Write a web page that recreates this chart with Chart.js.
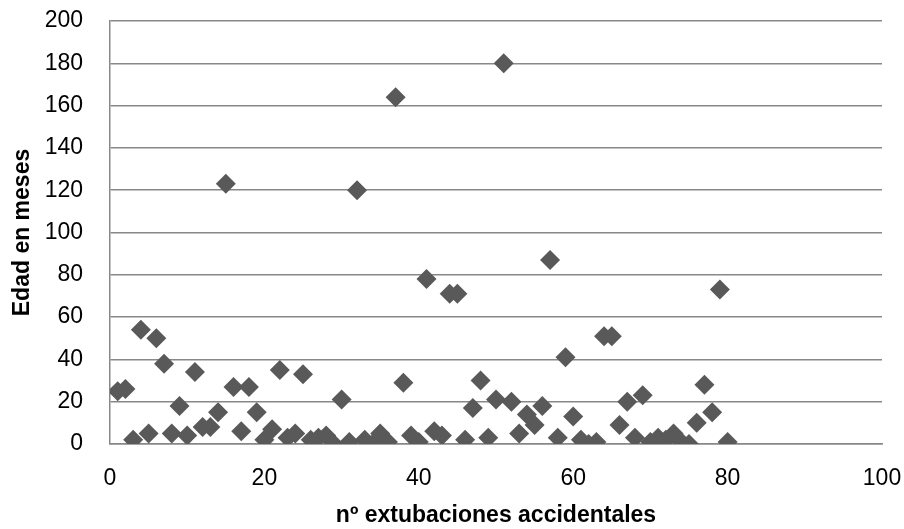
<!DOCTYPE html>
<html lang="es">
<head>
<meta charset="utf-8">
<title>Extubaciones accidentales</title>
<script src="https://cdn.jsdelivr.net/npm/chart.js@4.4.1/dist/chart.umd.min.js"></script>
<style>
  html, body { margin: 0; padding: 0; background: #fff; }
  #grafico { display: block; }
</style>
</head>
<body>
<canvas id="grafico" width="904" height="529"></canvas>
<script>
// nº de extubación (eje x) y edad del paciente en meses (eje y)
const extubaciones = [
    1, 2, 3, 4, 5, 6, 7, 8, 9, 10,
    11, 12, 13, 14, 15, 16, 17, 18, 19, 20,
    21, 22, 23, 24, 25, 26, 27, 28, 29, 30,
    31, 32, 33, 34, 35, 36, 37, 38, 39, 40,
    41, 42, 43, 44, 45, 46, 47, 48, 49, 50,
    51, 52, 53, 54, 55, 56, 57, 58, 59, 60,
    61, 62, 63, 64, 65, 66, 67, 68, 69, 70,
    71, 72, 73, 74, 75, 76, 77, 78, 79, 80
];
const edadMeses = [
    25, 26, 2, 54, 5, 50, 38, 5, 18, 4,
    34, 8, 8, 15, 123, 27, 6, 27, 15, 2,
    7, 35, 3, 5, 33, 2, 3, 4, 0, 21,
    1, 120, 2, 0, 5, 1, 164, 29, 4, 1,
    78, 6, 4, 71, 71, 2, 17, 30, 3, 21,
    180, 20, 5, 14, 9, 18, 87, 3, 41, 13,
    2, 0, 1, 51, 51, 9, 20, 3, 23, 1,
    3, 2, 5, 1, 0, 10, 28, 15, 73, 1
];
const ejeX = { min: 0, max: 100, paso: 20 };
const ejeY = { min: 0, max: 200, paso: 20 };

const puntos = extubaciones.map((x, i) => ({ x: x, y: edadMeses[i] }));

const fuente = "'Liberation Sans', Arial, sans-serif";
const gris = '#888888';

new Chart(document.getElementById('grafico').getContext('2d'), {
    type: 'scatter',
    data: {
        datasets: [{
            label: 'Edad en meses',
            data: puntos,
            pointStyle: 'rectRot',
            pointRadius: 10,
            pointHoverRadius: 10,
            pointBorderWidth: 0,
            backgroundColor: '#595959',
            borderColor: '#595959'
        }]
    },
    options: {
        responsive: false,
        animation: false,
        layout: { padding: { top: 21, right: 22, left: 0, bottom: 0 } },
        plugins: {
            legend: { display: false },
            tooltip: { enabled: false }
        },
        scales: {
            x: {
                type: 'linear',
                min: ejeX.min,
                max: ejeX.max,
                // alto fijo y sin margen extra por las etiquetas de los extremos
                afterFit: function(scale) {
                    scale.height = 85;
                    scale.paddingLeft = 0;
                    scale.paddingRight = 0;
                },
                ticks: {
                    stepSize: ejeX.paso,
                    padding: 21,
                    color: '#000',
                    font: { family: fuente, size: 23 }
                },
                grid: { display: false, drawTicks: false },
                border: { display: true, color: gris, width: 1.5 },
                title: {
                    display: true,
                    text: 'nº extubaciones accidentales',
                    color: '#000',
                    padding: { top: 0, bottom: 0 },
                    font: { family: fuente, size: 23, weight: 'bold' }
                }
            },
            y: {
                type: 'linear',
                min: ejeY.min,
                max: ejeY.max,
                afterFit: function(scale) {
                    scale.width = 110;
                    scale.paddingTop = 0;
                    scale.paddingBottom = 0;
                },
                ticks: {
                    stepSize: ejeY.paso,
                    padding: 27,
                    color: '#000',
                    font: { family: fuente, size: 23 }
                },
                grid: { color: gris, lineWidth: 1.5, drawTicks: false },
                border: { display: true, color: gris, width: 1.5 },
                title: {
                    display: true,
                    text: 'Edad en meses',
                    color: '#000',
                    padding: { top: 9, bottom: 0 },
                    font: { family: fuente, size: 23, weight: 'bold' }
                }
            }
        }
    }
});
</script>
</body>
</html>
